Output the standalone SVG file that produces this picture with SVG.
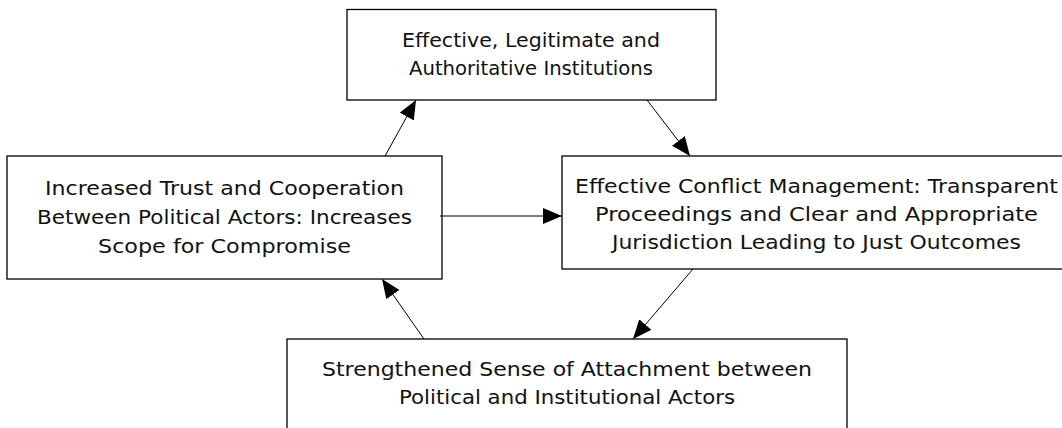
<svg xmlns="http://www.w3.org/2000/svg" width="1062" height="428" viewBox="0 0 1062 428">
<style>
.box{fill:#fff;stroke:#000;stroke-width:1.3}
.t{font-family:"DejaVu Sans","Liberation Sans",sans-serif;font-size:20px;fill:#111;text-anchor:middle}
.c{fill:none;stroke:#000;stroke-width:1;marker-end:url(#ah)}
</style>
<defs>
<marker id="ah" markerUnits="userSpaceOnUse" markerWidth="22" markerHeight="18" refX="19" refY="8" orient="auto">
<path d="M0,0 L19,8 L0,16 z" fill="#000"/>
</marker>
</defs>
<rect width="1062" height="428" fill="#fff"/>
<g id="n-institutions">
<rect class="box" x="347" y="9.5" width="369" height="90.5"/>
<text class="t" x="531" y="47" textLength="258" lengthAdjust="spacingAndGlyphs">Effective, Legitimate and</text>
<text class="t" x="531" y="75" textLength="244" lengthAdjust="spacingAndGlyphs">Authoritative Institutions</text>
</g>
<g id="n-trust">
<rect class="box" x="7" y="156" width="435" height="123"/>
<text class="t" x="224.5" y="195" textLength="359" lengthAdjust="spacingAndGlyphs">Increased Trust and Cooperation</text>
<text class="t" x="224.5" y="224" textLength="375" lengthAdjust="spacingAndGlyphs">Between Political Actors: Increases</text>
<text class="t" x="224.5" y="253" textLength="253" lengthAdjust="spacingAndGlyphs">Scope for Compromise</text>
</g>
<g id="n-conflict">
<rect class="box" x="562" y="156" width="520" height="113"/>
<text class="t" x="816.5" y="193" textLength="483" lengthAdjust="spacingAndGlyphs">Effective Conflict Management: Transparent</text>
<text class="t" x="816.5" y="221" textLength="443" lengthAdjust="spacingAndGlyphs">Proceedings and Clear and Appropriate</text>
<text class="t" x="816.5" y="249" textLength="409" lengthAdjust="spacingAndGlyphs">Jurisdiction Leading to Just Outcomes</text>
</g>
<g id="n-attachment">
<rect class="box" x="287" y="339" width="560" height="110"/>
<text class="t" x="567" y="376" textLength="490" lengthAdjust="spacingAndGlyphs">Strengthened Sense of Attachment between</text>
<text class="t" x="567" y="404" textLength="336" lengthAdjust="spacingAndGlyphs">Political and Institutional Actors</text>
</g>
<g id="connectors">
<line class="c" x1="385" y1="156" x2="416" y2="100"/>
<line class="c" x1="647" y1="100" x2="690" y2="156"/>
<line class="c" x1="440" y1="216" x2="562" y2="216"/>
<line class="c" x1="693" y1="269" x2="633" y2="339"/>
<line class="c" x1="424" y1="339" x2="382" y2="279"/>
</g>
</svg>
